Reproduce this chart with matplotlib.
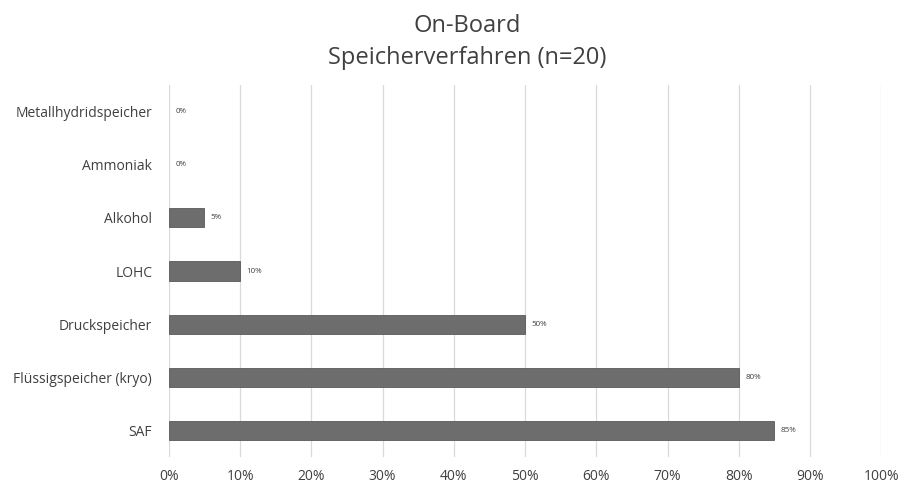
import matplotlib.pyplot as plt
from matplotlib.ticker import PercentFormatter

plt.rcParams['font.family'] = ['Open Sans', 'DejaVu Sans']

# Daten
kategorien = ['SAF', 'Flüssigspeicher (kryo)', 'Druckspeicher', 'LOHC',
              'Alkohol', 'Ammoniak', 'Metallhydridspeicher']
anteile = [85, 80, 50, 10, 5, 0, 0]
x_ticks = list(range(0, 101, 10))

fig = plt.figure(figsize=(9.03, 4.84), dpi=100)
ax = fig.add_axes([0.187, 0.056, 0.789, 0.768])

pos = list(range(len(kategorien)))
kanten = [0.6 if v > 0 else 0 for v in anteile]
ax.barh(pos, anteile, height=0.36, color='#6d6d6d', edgecolor='#5a5a5a',
        linewidth=kanten, zorder=3)

for p, v in zip(pos, anteile):
    ax.text(v + 0.9, p, f'{v}%', va='center', ha='left', fontsize=5.8,
            color='#404040')

ax.set_xlim(0, 100)
ax.set_ylim(-0.5, len(kategorien) - 0.5)
ax.set_xticks(x_ticks)
ax.xaxis.set_major_formatter(PercentFormatter(decimals=0))
ax.set_yticks(pos)
ax.set_yticklabels(kategorien)
ax.tick_params(axis='both', length=0, labelsize=10, labelcolor='#404040')
ax.tick_params(axis='x', pad=9)
ax.tick_params(axis='y', pad=12)
ax.grid(axis='x', color='#d9d9d9', linewidth=0.9, zorder=0)
for s in ax.spines.values():
    s.set_visible(False)

fig.suptitle('On-Board\nSpeicherverfahren (n=20)', fontsize=17,
             color='#404040', y=0.972, x=0.517, linespacing=1.45)

fig.savefig('out.png', dpi=100)
